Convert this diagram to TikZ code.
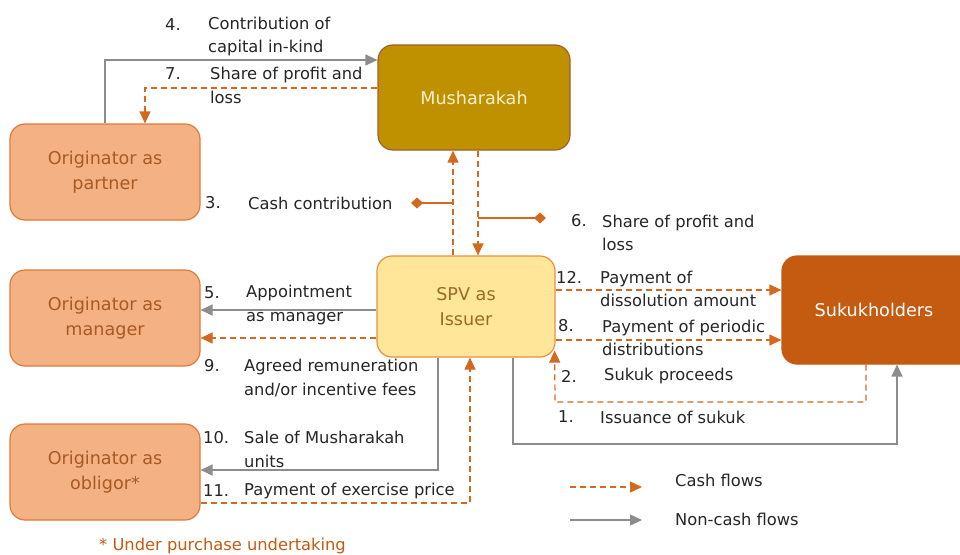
\documentclass[tikz,border=0pt]{standalone}
\usepackage{fontspec}
\setmainfont{DejaVu Sans}
\usetikzlibrary{arrows.meta,calc}
\definecolor{mushfill}{HTML}{BF9000}
\definecolor{mushdraw}{HTML}{A0602A}
\definecolor{mushtext}{HTML}{FAF0D0}
\definecolor{origfill}{HTML}{F4B183}
\definecolor{origdraw}{HTML}{E07A3A}
\definecolor{origtext}{HTML}{A85A25}
\definecolor{spvfill}{HTML}{FFE699}
\definecolor{spvdraw}{HTML}{E8903E}
\definecolor{spvtext}{HTML}{9A6A28}
\definecolor{sukfill}{HTML}{C55A11}
\definecolor{cashc}{HTML}{D2691E}
\definecolor{noncashc}{HTML}{8C8C8C}
\definecolor{labc}{HTML}{262626}
\begin{document}
\begin{tikzpicture}[x=1pt,y=-1pt,
  every node/.style={font=\fontsize{16.3}{23.5}\selectfont},
  boxbase/.style={rounded corners=15pt, line width=1.2pt, align=center, inner sep=0pt, font=\fontsize{17.6}{24.5}\selectfont},
  origbox/.style={boxbase, draw=origdraw, fill=origfill, text=origtext, minimum width=190pt, minimum height=96pt},
  mushbox/.style={boxbase, draw=mushdraw, fill=mushfill, text=mushtext, minimum width=192pt, minimum height=105pt},
  spvbox/.style={boxbase, draw=spvdraw, fill=spvfill, text=spvtext, minimum width=178pt, minimum height=101pt},
  sukbox/.style={boxbase, draw=sukfill, fill=sukfill, minimum width=220pt, minimum height=108pt},
  lab/.style={anchor=west, text=labc, align=left, inner sep=0pt},
  cash/.style={draw=cashc, line width=1.2pt, dash pattern=on 6pt off 4pt, -{Triangle[length=12pt,width=11pt]}, cashc},
  noncash/.style={draw=noncashc, line width=1.3pt, -{Triangle[length=12pt,width=11pt]}, noncashc},
  leader/.style={draw=cashc, line width=1.1pt, -{Diamond[length=12pt,width=11pt]}, cashc}
]
\clip (0,0) rectangle (960,554);
\fill[white] (0,0) rectangle (960,554);

% boxes
\node[mushbox] (mush) at (474,97.5) {Musharakah};
\node[origbox] (partner) at (105,172) {Originator as\\partner};
\node[origbox] (manager) at (105,318) {Originator as\\manager};
\node[origbox] (obligor) at (105,472) {Originator as\\obligor*};
\node[spvbox] (spv) at (466,306.5) {SPV as\\Issuer};
\node[sukbox] (sukuk) at (892,310) {};
\node[text=white, inner sep=0pt, font=\fontsize{17.6}{24.5}\selectfont] (suktext) at (874,310) {Sukukholders};

% 4 / 7
\draw[noncash] (partner.north) |- ([yshift=37.5pt]mush.west);
\draw[cash] ([yshift=9.5pt]mush.west) -| ([xshift=40pt]partner.north);
\node[lab] (n4) at (165,25) {4.};
\node[lab] (t4) at (208,36.5) {Contribution of\\capital in-kind};
\node[lab] (n7) at (165,74) {7.};
\node[lab] (t7) at (210,85.5) {Share of profit and\\loss};

% 3 / 6
\draw[cash] ([xshift=-13pt]spv.north) -- ([xshift=-21pt]mush.south);
\draw[cash] ([xshift=4pt]mush.south) -- ([xshift=12pt]spv.north);
\coordinate (d3s) at (453,203);
\coordinate (d3e) at (411,203);
\draw[leader] (d3s) -- (d3e);
\coordinate (d6s) at (478,218);
\coordinate (d6e) at (546,218);
\draw[leader] (d6s) -- (d6e);
\node[lab] (n3) at (205,203) {3.};
\node[lab] (t3) at (248,203) {Cash contribution};
\node[lab] (n6) at (571,221) {6.};
\node[lab] (t6) at (602,233) {Share of profit and\\loss};

% 5 / 9
\coordinate (s5) at ([yshift=-3.5pt]spv.west);
\coordinate (s9) at ([yshift=-31.5pt]spv.west);
\draw[noncash] (s5) -- (s5 -| manager.east);
\draw[cash] (s9) -- (s9 -| manager.east);
\node[lab] (n5) at (204,293) {5.};
\node[lab] (t5) at (246,305) {Appointment\\as manager};
\node[lab] (n9) at (204,366) {9.};
\node[lab] (t9) at (244,378) {Agreed remuneration\\and/or incentive fees};

% 10 / 11
\draw[noncash] ([xshift=-28pt]spv.south) |- ([yshift=2pt]obligor.east);
\draw[cash] ([yshift=-31pt]obligor.east) -| ([xshift=4pt]spv.south);
\node[lab] (n10) at (203,438) {10.};
\node[lab] (t10) at (244,449.5) {Sale of Musharakah\\units};
\node[lab] (n11) at (203,491) {11.};
\node[lab] (t11) at (244,491) {Payment of exercise price};

% 12 / 8
\coordinate (s12) at ([yshift=16.5pt]spv.east);
\coordinate (s8) at ([yshift=-33.5pt]spv.east);
\draw[cash] (s12) -- (s12 -| sukuk.west);
\draw[cash] (s8) -- (s8 -| sukuk.west);
\node[lab] (n12) at (556,277) {12.};
\node[lab] (t12) at (600,289) {Payment of\\dissolution amount};
\node[lab] (n8) at (558,326) {8.};
\node[lab] (t8) at (602,338) {Payment of periodic\\distributions};

% 2 / 1
\coordinate (c2) at (555,402);
\coordinate (c1) at (897,444);
\draw[cash] ([xshift=-26pt]sukuk.south) |- (c2) -- ([xshift=-1pt,yshift=7pt]spv.south east);
\draw[noncash] ([xshift=47pt]spv.south) |- (c1) -- ([xshift=5pt]sukuk.south);
\node[lab] (n2) at (561,376) {2.};
\node[lab] (t2) at (604,376) {Sukuk proceeds};
\node[lab] (n1) at (558,417) {1.};
\node[lab] (t1) at (600,417) {Issuance of sukuk};

% legend
\coordinate (lc1) at (570,487);
\coordinate (lc2) at (642,487);
\coordinate (ln1) at (570,520);
\coordinate (ln2) at (642,520);
\draw[cash] (lc1) -- (lc2);
\draw[noncash] (ln1) -- (ln2);
\node[lab] (lcash) at (675,480) {Cash flows};
\node[lab] (lnon) at (675,519) {Non-cash flows};

% footnote
\node[lab, text=sukfill] (foot) at (99,546) {* Under purchase undertaking};
\end{tikzpicture}
\end{document}
